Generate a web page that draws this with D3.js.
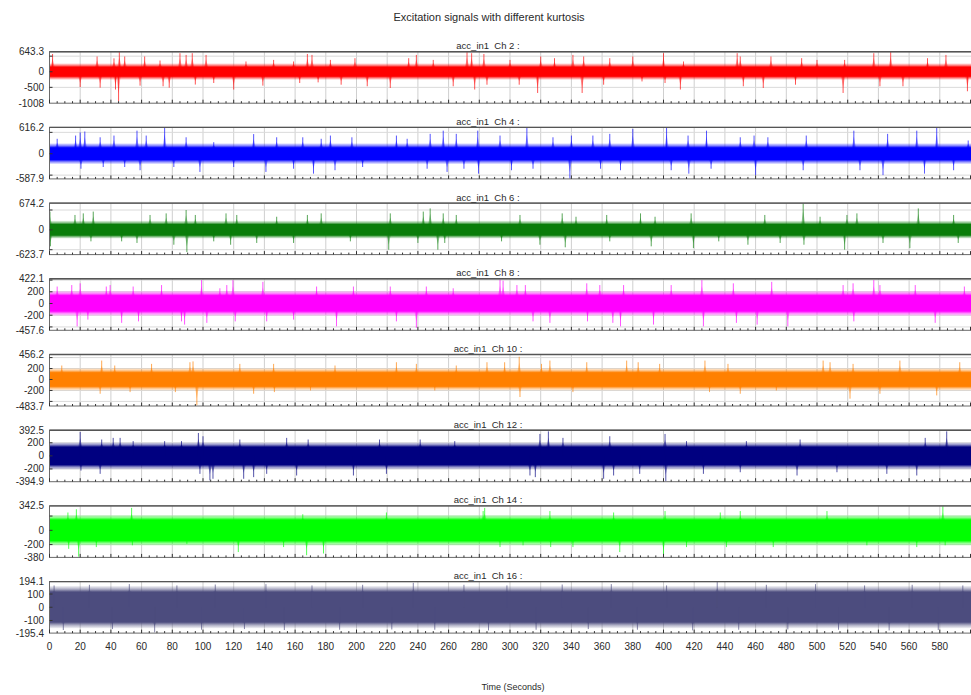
<!DOCTYPE html>
<html>
<head>
<meta charset="utf-8">
<script src="https://cdn.jsdelivr.net/npm/d3@7/dist/d3.min.js"></script>
<style>
  body { margin: 0; background: #fff; }
  svg text { font-family: Arial, "Liberation Sans", sans-serif; fill: #2a2a2a; }
</style>
</head>
<body>
<svg id="chart"></svg>
<script>
// channels, top to bottom
var channels = ['Ch 2', 'Ch 4', 'Ch 6', 'Ch 8', 'Ch 10', 'Ch 12', 'Ch 14', 'Ch 16'];
var colors = ['#ff0000', '#0000ff', '#0a7d0a', '#ff00ff', '#ff8000', '#000080', '#00ff00', '#4c4c7e'];

// y range of each panel (min / max shown on the axis)
var yMin = [-1008, -587.9, -623.7, -457.6, -483.7, -394.9, -380, -195.4];
var yMax = [643.3, 616.2, 674.2, 422.1, 456.2, 392.5, 342.5, 194.1];
var gridTicks = [[-500, 0, 500], [-500, 0, 500], [-500, 0, 500], [-400, -200, 0, 200, 400],
  [-400, -200, 0, 200, 400], [-200, 0, 200], [-200, 0, 200], [-100, 0, 100]];
var labelTicks = [[-500, 0], [0], [0], [-200, 0, 200], [-200, 0, 200], [-200, 0, 200], [-200, 0], [-100, 0, 100]];

// x axis ticks (seconds)
var xTicks = d3.range(0, 581, 20);

// dense part of each signal (upper / lower level) and its ragged edge
var coreHi = [150, 140, 135, 135, 125, 135, 145, 115];
var coreLo = [-145, -140, -135, -130, -125, -135, -145, -112];
var fuzzHi = [270, 245, 230, 215, 205, 205, 215, 160];
var fuzzLo = [-260, -240, -220, -210, -200, -205, -215, -158];

// peaks [time s, value]
var ch2Peaks = [[2,570],[20,-490],[31,490],[33,-510],[42,430],[43,-570],[45,-945],[45.5,640],[49,490],[59,-445],[62,490],[72,360],[74,-465],[78,-510],[85,595],[89,540],[93,595],[95,-410],[102,540],[107,-360],[120,-570],[128,330],[139,-445],[146,380],[159,330],[163,-360],[168,570],[171,540],[175,-340],[183,380],[190,-415],[199,435],[207,-465],[222,-520],[234,435],[239,540],[250,380],[263,-465],[272,640],[275,595],[277,-570],[283,570],[285,-415],[300,380],[306,-415],[318,-680],[320,490],[329,435],[341,540],[347,-680],[348,490],[361,-415],[365,435],[380,490],[386,-310],[400,595],[401,-360],[411,-570],[413,330],[448,595],[450,490],[452,-465],[465,-520],[470,490],[486,-415],[490,435],[500,380],[517,-680],[518,380],[537,595],[541,-465],[548,640],[556,-465],[572,435],[584,540],[598,-625]];
var ch4Peaks = [[5,350],[17,425],[20,500],[20.5,-350],[23,520],[33,385],[35,-310],[42,425],[49,-310],[57,540],[59,-385],[63,425],[75,615],[81,-310],[89,385],[98,-425],[107,270],[120,-310],[133,460],[141,-425],[148,385],[159,-350],[165,385],[172,-465],[177,350],[183,425],[186,-385],[197,385],[204,-310],[226,425],[233,350],[246,-350],[248,465],[256.5,540],[259,-425],[265,465],[270,-350],[279,540],[279.5,-465],[293.5,425],[301,-385],[311,615],[315,-350],[328,385],[339,-580],[340,425],[354,425],[359,-350],[365,465],[372,-385],[380,580],[402,615],[405,-385],[416,425],[416.5,-465],[428,540],[431,-350],[450,385],[459,425],[460,-500],[468,385],[491,-385],[493,425],[524,540],[528,-385],[543,-500],[546,465],[565,540],[570,-465],[578,615],[589,-385],[598.5,310]];
var ch6Peaks = [[0.3,460],[0.6,-415],[16.6,375],[22,415],[27,-290],[28.5,460],[47,-290],[57,-330],[65.5,375],[76,415],[81,-375],[89,500],[89.5,-560],[95,375],[107,-290],[115,415],[118,-375],[122,375],[135,-330],[148,330],[159,-330],[168,375],[177,415],[196,-290],[221,-500],[222,415],[240,-330],[243.5,460],[248,540],[253,-500],[256.5,415],[257.5,-330],[265,375],[294.5,-290],[306.5,375],[319.5,-375],[334,415],[336,-440],[343,330],[363,375],[365,-290],[385,415],[392,-415],[394.5,330],[418,415],[419.5,-460],[436,-290],[455,-375],[466,375],[476,-330],[491,670],[491.5,-375],[502,330],[518,-500],[519.5,375],[526,415],[543,-330],[560.5,-460],[566,540],[589,375],[592,-330]];
var ch8Peaks = [[5,290],[14.5,315],[18,-390],[20,345],[25,-275],[37,290],[39.5,315],[47,-330],[54.5,290],[58,-305],[73,315],[86,-305],[88,-360],[99,400],[102.5,-330],[111,260],[115.5,315],[119.5,400],[121,-305],[139,370],[141.5,-305],[159,-275],[174,290],[187,-390],[198,290],[222,290],[226,-305],[239,-415],[245.5,290],[263,260],[293.5,410],[295.5,390],[304.5,315],[310,315],[315,-305],[326,-330],[350,345],[350.5,-305],[358.5,315],[367,-330],[372,-390],[374,315],[393.5,-360],[405,315],[425,400],[426,-390],[445.5,345],[447.5,-330],[461,-360],[470.5,370],[481,-390],[517,315],[523.5,345],[524,-305],[537,400],[541,315],[564,315],[577,-330],[596,290]];
var ch10Peaks = [[8,255],[33,-260],[34,345],[42.5,255],[52.5,-230],[66.5,285],[82,-230],[91.5,315],[93.5,330],[96,-470],[124,285],[133,-260],[146,285],[146.5,-230],[170,-200],[186,255],[226,315],[239,285],[251,-200],[265,255],[285,315],[296.5,315],[306,415],[306.5,-320],[320.5,285],[326,345],[341,-230],[350,315],[376,345],[383.5,315],[397.5,285],[427,345],[430,-230],[442,285],[450,-260],[473.5,-200],[504,345],[508.5,315],[521.5,-350],[523.5,285],[541,-260],[554,345],[578,-290],[593,315]];
var ch12Peaks = [[20,365],[20.5,-225],[33,-275],[34,250],[41.5,275],[46,275],[54.5,225],[75,225],[86,225],[97,350],[98,-275],[100,300],[104.5,-375],[106.5,-350],[124,250],[126.5,-350],[133,-325],[141.5,-275],[154.5,275],[161,-300],[168.5,250],[198,-300],[215,250],[219.5,-275],[241.5,250],[264,225],[313,-300],[316.5,-325],[319.5,335],[325,375],[334.5,275],[361,-350],[365,300],[367.5,-300],[384.5,-275],[401,335],[401.5,-385],[415,225],[426,-275],[450,-250],[454,225],[487,-300],[489,250],[513,-250],[545.5,-275],[565,-300],[570.5,275],[584.5,375]];
var ch14Peaks = [[12,250],[12.5,-260],[17.5,295],[19,-370],[30.5,-235],[53.5,315],[54,-210],[89.5,-190],[123,-305],[152.5,-235],[165,225],[167.5,-350],[178.5,-325],[219.5,250],[282.5,270],[283.5,315],[293.5,-235],[308.5,-210],[326,270],[326.5,-235],[341,-235],[367.5,250],[371.5,-305],[400,-370],[401,270],[415,-235],[437,250],[441,-235],[450,270],[471.5,-235],[506.5,270],[532.5,-210],[565,-235],[582,340],[583.5,-210]];
var ch16Peaks = [[3,165],[9,-172],[26,170],[41,-165],[52,175],[68.5,-190],[83,165],[99,-170],[108,172],[127,-165],[141,175],[153,-172],[171,165],[189,-170],[204,170],[223,-168],[237,185],[251,-170],[270,170],[286,-175],[298,165],[317,-170],[334,172],[351,-165],[366,175],[383,-170],[402,165],[419,-175],[435,192],[449,-170],[467,170],[481,-168],[499,175],[514,-170],[531,165],[547,-175],[562,170],[579,-172],[595,165]];
var peaks = [ch2Peaks, ch4Peaks, ch6Peaks, ch8Peaks, ch10Peaks, ch12Peaks, ch14Peaks, ch16Peaks];

var width = 971, height = 695;
var tEnd = 602;
var top0 = 51.7, step = 75.7, panelH = 51.5;

var svg = d3.select('#chart').attr('width', width).attr('height', height);
var defs = svg.append('defs');

var x = d3.scaleLinear().domain([0, 600]).range([49.5, 970.5]);

svg.append('text')
  .attr('x', 489).attr('y', 21)
  .attr('text-anchor', 'middle')
  .style('font-size', '11px')
  .text('Excitation signals with different kurtosis');

channels.forEach(function (name, i) {
  var top = top0 + i * step;
  var y = d3.scaleLinear().domain([yMin[i], yMax[i]]).range([top + panelH, top]);
  var g = svg.append('g');

  defs.append('clipPath').attr('id', 'clip' + i)
    .append('rect')
    .attr('x', x(0)).attr('y', top)
    .attr('width', x(tEnd) - x(0)).attr('height', panelH);

  // band shading: solid core that fades out to the ragged edge
  var span = fuzzHi[i] - fuzzLo[i];
  var grad = defs.append('linearGradient').attr('id', 'band' + i)
    .attr('gradientUnits', 'userSpaceOnUse')
    .attr('x1', 0).attr('x2', 0)
    .attr('y1', y(fuzzHi[i])).attr('y2', y(fuzzLo[i]));
  [[0, 0.08], [(fuzzHi[i] - coreHi[i]) / span * 0.5, 0.45], [(fuzzHi[i] - coreHi[i]) / span, 1],
   [(fuzzHi[i] - coreLo[i]) / span, 1], [1 - (coreLo[i] - fuzzLo[i]) / span * 0.5, 0.45], [1, 0.08]]
    .forEach(function (s) {
      grad.append('stop').attr('offset', s[0])
        .attr('stop-color', colors[i]).attr('stop-opacity', s[1]);
    });

  // grid
  g.selectAll('.vgrid').data(xTicks).enter().append('line')
    .attr('x1', function (d) { return x(d); }).attr('x2', function (d) { return x(d); })
    .attr('y1', top).attr('y2', top + panelH)
    .attr('stroke', '#cfcfcf').attr('stroke-width', 1);
  g.selectAll('.hgrid').data(gridTicks[i]).enter().append('line')
    .attr('x1', x(0)).attr('x2', x(tEnd))
    .attr('y1', function (d) { return y(d); }).attr('y2', function (d) { return y(d); })
    .attr('stroke', '#dadada').attr('stroke-width', 1);

  var plot = g.append('g').attr('clip-path', 'url(#clip' + i + ')');

  plot.append('path')
    .attr('d', d3.area().x(function (d) { return x(d); })
      .y0(y(fuzzLo[i])).y1(y(fuzzHi[i]))([0, tEnd]))
    .attr('fill', 'url(#band' + i + ')');

  // each peak: a faint burst plus the peak line
  plot.selectAll('.burst').data(peaks[i]).enter().append('path')
    .attr('d', function (d) {
      var edge = d[1] > 0 ? coreHi[i] : coreLo[i];
      return 'M' + x(d[0] - 1.3) + ',' + y(edge) + 'L' + x(d[0]) + ',' + y(d[1] * 0.75) +
        'L' + x(d[0] + 1.3) + ',' + y(edge) + 'Z';
    })
    .attr('fill', colors[i]).attr('opacity', 0.35);
  plot.selectAll('.peak').data(peaks[i]).enter().append('line')
    .attr('x1', function (d) { return x(d[0]); }).attr('x2', function (d) { return x(d[0]); })
    .attr('y1', y(0)).attr('y2', function (d) { return y(d[1]); })
    .attr('stroke', colors[i]).attr('stroke-width', 0.9).attr('opacity', 0.75);

  // frame
  g.append('rect')
    .attr('x', x(0)).attr('y', top)
    .attr('width', x(tEnd) - x(0)).attr('height', panelH)
    .attr('fill', 'none').attr('stroke', '#6a6a6a').attr('stroke-width', 1);
  g.append('line')
    .attr('x1', x(0)).attr('x2', x(tEnd)).attr('y1', top).attr('y2', top)
    .attr('stroke', '#555').attr('stroke-width', 1.4);

  // small ticks along bottom and left edges
  g.selectAll('.mtick').data(d3.range(0, tEnd, 5)).enter().append('line')
    .attr('x1', function (d) { return x(d); }).attr('x2', function (d) { return x(d); })
    .attr('y1', top + panelH).attr('y2', function (d) { return top + panelH - (d % 20 === 0 ? 3.5 : 2); })
    .attr('stroke', '#333').attr('stroke-width', 1);
  g.selectAll('.ltick').data(gridTicks[i]).enter().append('line')
    .attr('x1', x(0)).attr('x2', x(0) + 3)
    .attr('y1', function (d) { return y(d); }).attr('y2', function (d) { return y(d); })
    .attr('stroke', '#333').attr('stroke-width', 1);

  // y labels: extremes plus inner ticks
  var labels = [yMax[i]].concat(labelTicks[i].slice().reverse()).concat([yMin[i]]);
  g.selectAll('.ylab').data(labels).enter().append('text')
    .attr('x', 44).attr('y', function (d) { return y(d); })
    .attr('dy', '0.35em')
    .attr('text-anchor', 'end')
    .style('font-size', '10px')
    .text(function (d) { return String(d); });

  g.append('text')
    .attr('x', 488).attr('y', top - 2.5)
    .attr('text-anchor', 'middle')
    .style('font-size', '9.5px')
    .style('white-space', 'pre')
    .text('acc_in1  ' + name + ' :');

  if (i === channels.length - 1) {
    g.selectAll('.xlab').data(xTicks).enter().append('text')
      .attr('x', function (d) { return x(d); })
      .attr('y', top + panelH + 17)
      .attr('text-anchor', 'middle')
      .style('font-size', '10px')
      .text(function (d) { return d; });
  }
});

svg.append('text')
  .attr('x', 513).attr('y', 690)
  .attr('text-anchor', 'middle')
  .style('font-size', '9px')
  .text('Time (Seconds)');
</script>
</body>
</html>
